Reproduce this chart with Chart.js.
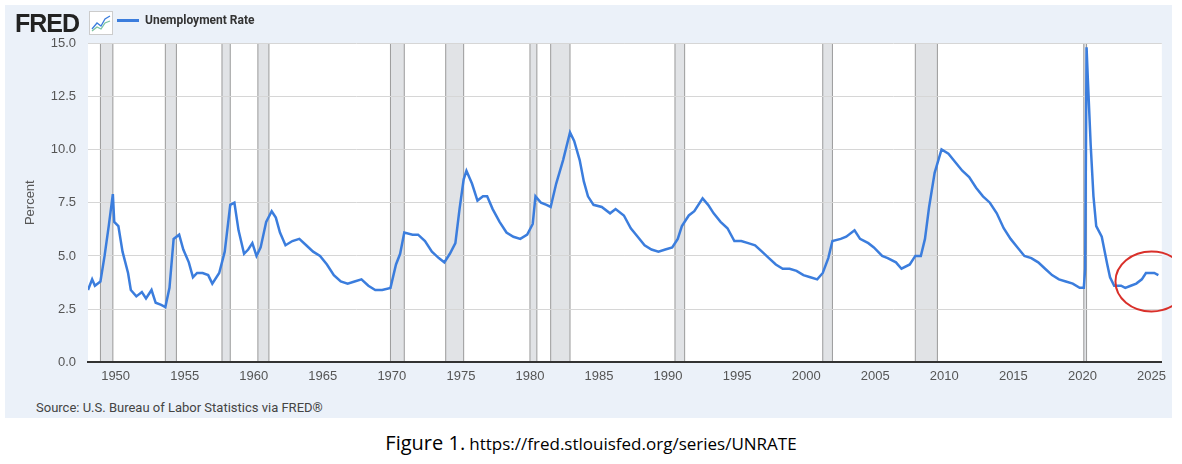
<!DOCTYPE html>
<html>
<head>
<meta charset="utf-8">
<script src="https://cdn.jsdelivr.net/npm/chart.js@4"></script>
<style>
  body { margin: 0; background: #fff; width: 1182px; height: 464px; overflow: hidden; font-family: Roboto, "Noto Sans", sans-serif; }
  #panel { position: absolute; left: 5px; top: 5px; width: 1167px; height: 413px; background: #ebf1f9; }
  #wrap { position: absolute; left: 0; top: 0; width: 1167px; height: 385px; }
  #logo { position: absolute; left: 10px; top: 4px; font: 900 25px "Liberation Sans", Arial, sans-serif; color: #222; letter-spacing: -1px; }
  #icon { position: absolute; left: 84px; top: 6px; width: 22px; height: 22px; border: 1px solid #ccc; background: #fff; }
  #legend { position: absolute; left: 112px; top: 8px; font: 700 12px Roboto, sans-serif; color: #333; }
  #legend span { display: inline-block; width: 22px; height: 3px; background: #3b7ddd; vertical-align: middle; margin-right: 6px; }
  #source { position: absolute; left: 31px; top: 395px; font-size: 13px; color: #444; }
  #caption { position: absolute; left: 0; width: 1182px; top: 429px; text-align: center; color: #000; font-family: "Open Sans", "Noto Sans", sans-serif; }
</style>
</head>
<body>
<div id="panel">
  <div id="wrap"><canvas id="c"></canvas></div>
  <div id="logo">FRED</div>
  <svg id="icon" viewBox="0 0 22 22"><polyline points="2,17 7,11 11,14 15,7 20,4" fill="none" stroke="#3b7ddd" stroke-width="1.3"/><polyline points="2,19 7,15 11,17 15,11 20,9" fill="none" stroke="#7bc4a0" stroke-width="1.3"/></svg>
  <div id="legend"><span></span>Unemployment Rate</div>
  <div id="source">Source: U.S. Bureau of Labor Statistics via FRED®</div>
</div>
<div id="caption"><span style="font-size:20px">Figure 1.</span> <span style="font-size:17px">https://fred.stlouisfed.org/series/UNRATE</span></div>
<script>
const years = [1948.0,1948.3,1948.5,1948.9,1949.2,1949.5,1949.8,1949.9,1950.2,1950.5,1950.9,1951.1,1951.5,1951.9,1952.2,1952.6,1952.9,1953.3,1953.6,1953.9,1954.2,1954.6,1954.9,1955.3,1955.6,1955.9,1956.3,1956.7,1957.0,1957.5,1957.9,1958.3,1958.6,1958.9,1959.3,1959.6,1959.9,1960.2,1960.5,1960.9,1961.3,1961.6,1961.9,1962.3,1962.8,1963.3,1963.8,1964.3,1964.8,1965.3,1965.8,1966.3,1966.8,1967.3,1967.8,1968.3,1968.8,1969.3,1969.9,1970.3,1970.6,1970.9,1971.5,1971.9,1972.4,1972.9,1973.4,1973.8,1974.2,1974.6,1974.9,1975.2,1975.4,1975.8,1976.2,1976.6,1976.9,1977.3,1977.8,1978.3,1978.8,1979.3,1979.8,1980.2,1980.4,1980.8,1981.2,1981.5,1981.9,1982.4,1982.9,1983.2,1983.6,1983.9,1984.2,1984.6,1985.2,1985.8,1986.2,1986.8,1987.3,1987.8,1988.3,1988.8,1989.3,1989.8,1990.3,1990.7,1991.0,1991.5,1991.9,1992.5,1992.9,1993.3,1993.8,1994.3,1994.8,1995.3,1995.8,1996.3,1996.8,1997.3,1997.8,1998.3,1998.8,1999.3,1999.8,2000.3,2000.8,2001.2,2001.6,2001.9,2002.5,2002.9,2003.5,2003.9,2004.5,2004.9,2005.5,2005.9,2006.5,2006.9,2007.5,2007.9,2008.3,2008.6,2008.9,2009.3,2009.8,2010.3,2010.8,2011.3,2011.8,2012.3,2012.8,2013.3,2013.8,2014.3,2014.8,2015.3,2015.8,2016.3,2016.8,2017.3,2017.8,2018.3,2018.8,2019.3,2019.8,2020.1,2020.2,2020.3,2020.4,2020.6,2020.8,2021.0,2021.4,2021.8,2022.0,2022.3,2022.8,2023.1,2023.5,2023.9,2024.3,2024.6,2024.9,2025.2,2025.5];
const rates = [3.4,3.9,3.6,3.8,5.0,6.4,7.9,6.6,6.4,5.2,4.2,3.4,3.1,3.3,3.0,3.4,2.8,2.7,2.6,3.5,5.8,6.0,5.3,4.7,4.0,4.2,4.2,4.1,3.7,4.2,5.2,7.4,7.5,6.2,5.1,5.3,5.6,5.0,5.4,6.6,7.1,6.8,6.1,5.5,5.7,5.8,5.5,5.2,5.0,4.6,4.1,3.8,3.7,3.8,3.9,3.6,3.4,3.4,3.5,4.6,5.1,6.1,6.0,6.0,5.7,5.2,4.9,4.7,5.1,5.6,7.2,8.6,9.0,8.4,7.6,7.8,7.8,7.2,6.6,6.1,5.9,5.8,6.0,6.5,7.8,7.5,7.4,7.3,8.4,9.5,10.8,10.4,9.5,8.5,7.8,7.4,7.3,7.0,7.2,6.9,6.3,5.9,5.5,5.3,5.2,5.3,5.4,5.8,6.4,6.9,7.1,7.7,7.4,7.0,6.6,6.3,5.7,5.7,5.6,5.5,5.2,4.9,4.6,4.4,4.4,4.3,4.1,4.0,3.9,4.2,4.9,5.7,5.8,5.9,6.2,5.8,5.6,5.4,5.0,4.9,4.7,4.4,4.6,5.0,5.0,5.8,7.3,8.9,10.0,9.8,9.4,9.0,8.7,8.2,7.8,7.5,7.0,6.3,5.8,5.4,5.0,4.9,4.7,4.4,4.1,3.9,3.8,3.7,3.5,3.5,4.4,14.8,13.2,10.2,7.8,6.4,5.9,4.6,4.0,3.6,3.6,3.5,3.6,3.7,3.9,4.2,4.2,4.2,4.1];
const recessionStart = [1948.9,1953.6,1957.7,1960.3,1969.9,1973.9,1980.0,1981.5,1990.5,2001.2,2007.9,2020.1];
const recessionEnd   = [1949.8,1954.4,1958.3,1961.1,1970.9,1975.2,1980.5,1982.9,1991.2,2001.9,2009.5,2020.3];
const xTicks = [1950,1955,1960,1965,1970,1975,1980,1985,1990,1995,2000,2005,2010,2015,2020,2025];
const yTicks = [0,2.5,5,7.5,10,12.5,15];
const highlight = { x: 2025.0, y: 3.8 };

const bgPlugin = {
  id: 'bg',
  beforeDraw(chart) {
    const { ctx, chartArea: a, scales: { x } } = chart;
    ctx.save();
    ctx.fillStyle = '#fff';
    ctx.fillRect(a.left, a.top, a.right - a.left, a.bottom - a.top);
    ctx.beginPath(); ctx.rect(a.left, a.top, a.right - a.left, a.bottom - a.top); ctx.clip();
    recessionStart.forEach((s, i) => {
      const x0 = x.getPixelForValue(s), x1 = x.getPixelForValue(recessionEnd[i]);
      ctx.fillStyle = '#e1e3e6';
      ctx.fillRect(x0, a.top, x1 - x0, a.bottom - a.top);
      ctx.strokeStyle = '#9a9a9a'; ctx.lineWidth = 1;
      ctx.beginPath(); ctx.moveTo(x0, a.top); ctx.lineTo(x0, a.bottom); ctx.moveTo(x1, a.top); ctx.lineTo(x1, a.bottom); ctx.stroke();
    });
    ctx.restore();
  },
  afterDraw(chart) {
    const { ctx, scales: { x, y } } = chart;
    ctx.save();
    ctx.strokeStyle = '#d9302a'; ctx.lineWidth = 2;
    ctx.beginPath();
    ctx.ellipse(x.getPixelForValue(highlight.x), y.getPixelForValue(highlight.y), 36, 30, 0, 0, Math.PI * 2);
    ctx.stroke();
    ctx.restore();
  }
};

new Chart(document.getElementById('c'), {
  type: 'line',
  data: { datasets: [{ data: years.map((v, i) => ({ x: v, y: rates[i] })), borderColor: '#3b7ddd', borderWidth: 2.5, pointRadius: 0, tension: 0 }] },
  options: {
    responsive: true, maintainAspectRatio: false, animation: false,
    layout: { padding: { top: 38, right: 7 } },
    plugins: { legend: { display: false }, tooltip: { enabled: false } },
    scales: {
      x: {
        type: 'linear', min: 1948, max: 2025.75,
        afterBuildTicks: s => { s.ticks = xTicks.map(v => ({ value: v })); },
        grid: { display: false, drawTicks: false },
        border: { color: '#333', width: 2 },
        ticks: { color: '#555', font: { size: 13 }, padding: 6, maxRotation: 0, autoSkip: false, callback: v => String(v) }
      },
      y: {
        min: 0, max: 15,
        afterBuildTicks: s => { s.ticks = yTicks.map(v => ({ value: v })); },
        afterFit: s => { s.width = 83; },
        grid: { color: '#d6d6d6', drawTicks: false },
        border: { display: false },
        ticks: { color: '#555', font: { size: 13 }, padding: 12, callback: v => v.toFixed(1) },
        title: { display: true, text: 'Percent', color: '#555', font: { size: 13 }, padding: { top: 18, bottom: 0 } }
      }
    }
  },
  plugins: [bgPlugin]
});
</script>
</body>
</html>
